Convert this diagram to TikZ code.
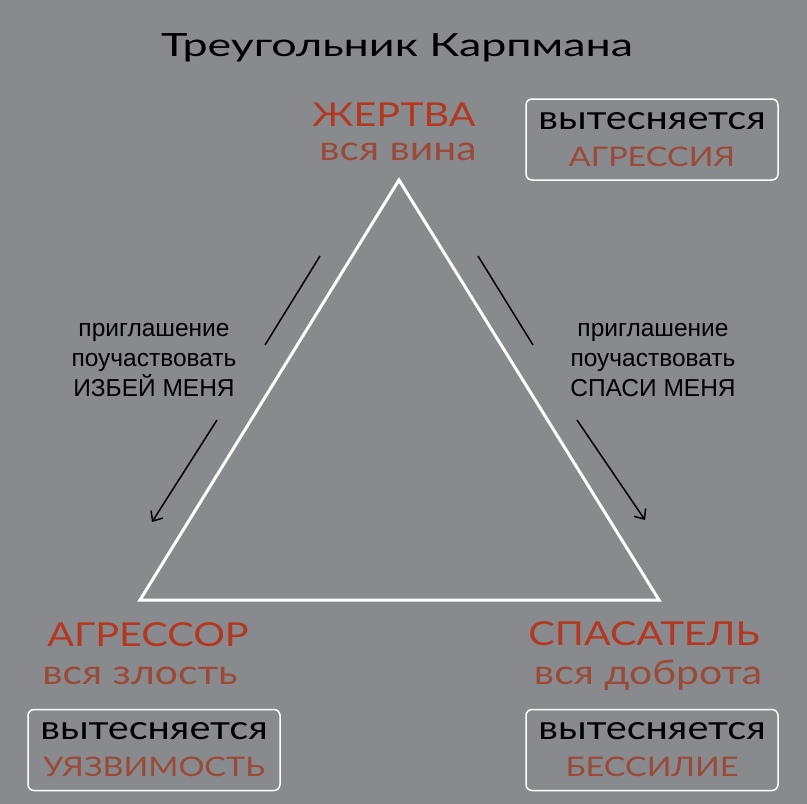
\documentclass[tikz,border=0pt]{standalone}
\usepackage{fontspec}
\setmainfont{Liberation Sans}
\newfontfamily\roundfont[FakeStretch=1.2]{Lato}
\newfontfamily\widefont[FakeStretch=1.4]{Lato}
\usetikzlibrary{arrows.meta}
\definecolor{bg}{HTML}{898A8E}
\definecolor{rolered}{HTML}{B23822}
\definecolor{softred}{HTML}{9A4A38}
\tikzset{>={Straight Barb[length=8pt,width=14pt,line width=1.5pt]}}
\tikzset{
  role/.style={font=\roundfont\fontsize{33}{33}\selectfont, text=rolered, inner sep=0pt},
  trait/.style={font=\roundfont\fontsize{34}{34}\selectfont, text=softred, inner sep=0pt},
  hiddenbox/.style={draw=white, line width=1.5pt, rounded corners=6pt, minimum width=252pt,
    minimum height=81pt, align=center, inner sep=0pt,
    font=\roundfont\fontsize{33}{37}\selectfont},
  invite/.style={align=center, inner sep=0pt, font=\fontsize{24.5}{30}\selectfont},
  push/.style={->, line width=1.5pt}
}
\newcommand{\hiddenword}[1]{{\fontsize{27}{37}\selectfont\color{softred}#1}}
\begin{document}
\begin{tikzpicture}[x=1pt, y=-1pt]
  \fill[bg] (0,0) rectangle (807,804);
  \node[font=\widefont\fontsize{32}{32}\selectfont, inner sep=0pt] (title) at (397,48) {Треугольник Карпмана};

  % triangle corners
  \coordinate (victim) at (399,180);
  \coordinate (aggressor) at (140,600);
  \coordinate (rescuer) at (659,600);
  \draw[white, line width=3pt] (victim) -- (rescuer) -- (aggressor) -- cycle;

  % roles
  \node[role] (victimname) at (394,115) {ЖЕРТВА};
  \node[trait] (victimtrait) at (398,152) {вся вина};
  \node[role] (aggrname) at (148,635) {АГРЕССОР};
  \node[trait] (aggrtrait) at (140,676) {вся злость};
  \node[role] (rescname) at (644,634) {СПАСАТЕЛЬ};
  \node[trait] (resctrait) at (648,675) {вся доброта};

  % what is pushed away
  \node[hiddenbox] (victimbox) at (652,139.5) {вытесняется\\\hiddenword{АГРЕССИЯ}};
  \node[hiddenbox] (aggrbox) at (154,750) {вытесняется\\\hiddenword{УЯЗВИМОСТЬ}};
  \node[hiddenbox] (rescbox) at (652,750) {вытесняется\\\hiddenword{БЕССИЛИЕ}};

  % invitations
  \node[invite] (hitme) at (154,360) {приглашение\\поучаствовать\\ИЗБЕЙ МЕНЯ};
  \node[invite] (saveme) at (653,360) {приглашение\\поучаствовать\\СПАСИ МЕНЯ};

  \coordinate (l1) at (320,256);
  \coordinate (l2) at (265,345);
  \coordinate (l3) at (217,420);
  \coordinate (l4) at (152,522);
  \draw[line width=1.5pt] (l1) -- (l2);
  \draw[push] (l3) -- (l4);

  \coordinate (r1) at (478,256);
  \coordinate (r2) at (533,345);
  \coordinate (r3) at (577,420);
  \coordinate (r4) at (645,520);
  \draw[line width=1.5pt] (r1) -- (r2);
  \draw[push] (r3) -- (r4);
\end{tikzpicture}
\end{document}
